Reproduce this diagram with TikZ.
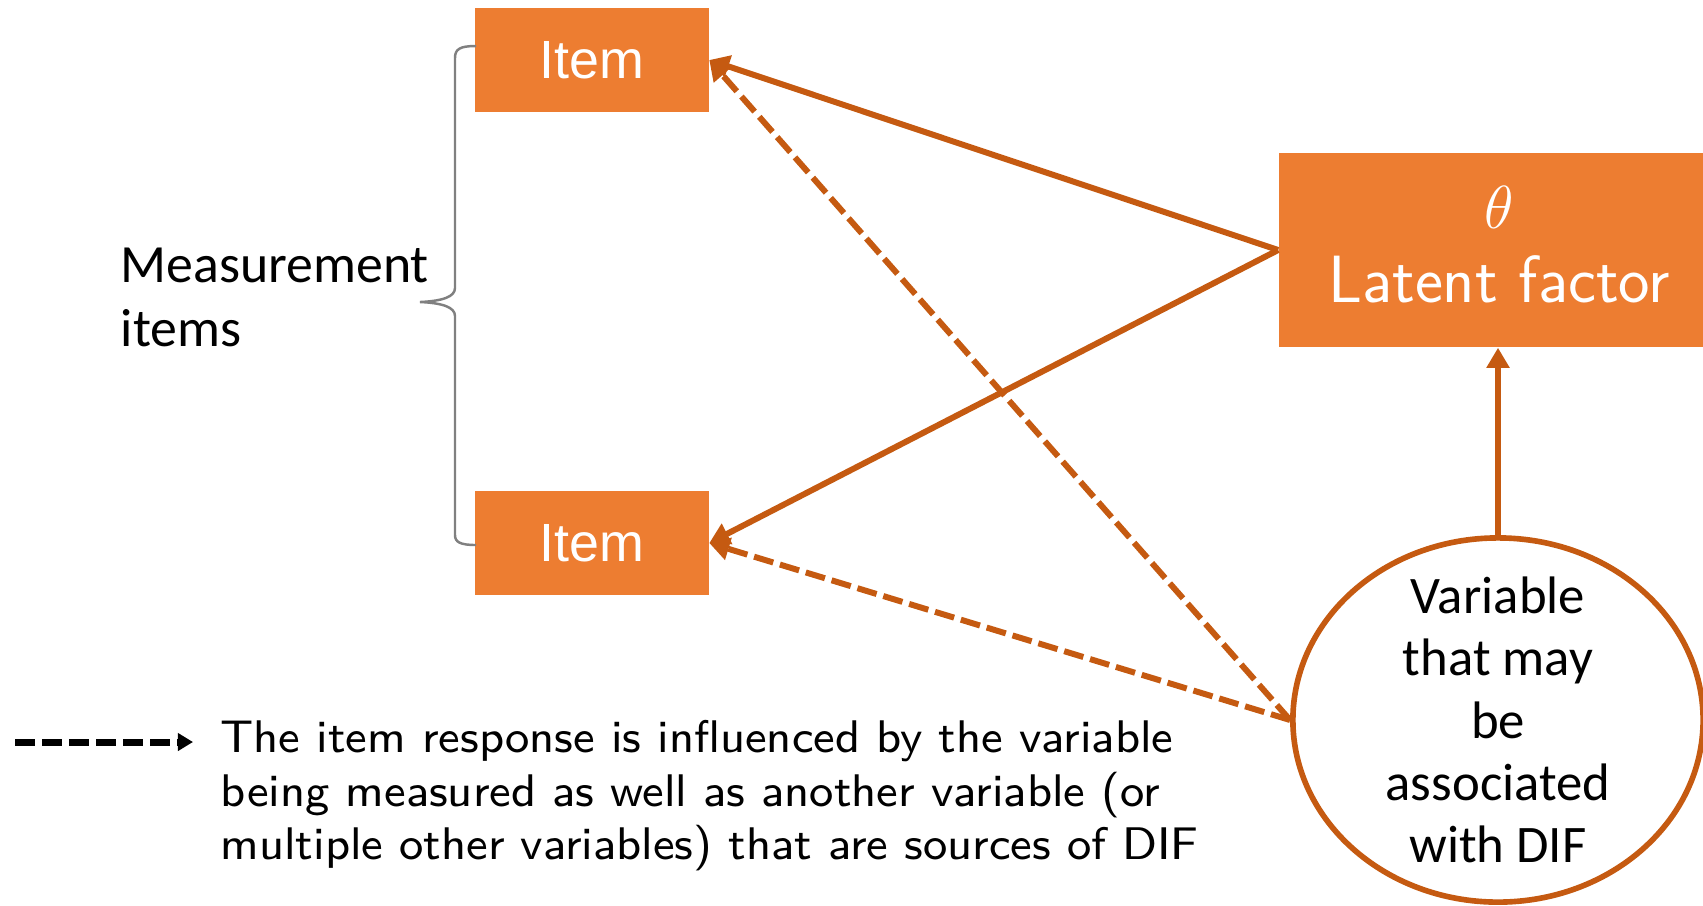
\documentclass[tikz,border=0pt]{standalone}
\usepackage{amsmath}
\usepackage{fontspec}
\newfontfamily\calibrifont{Carlito}
\newfontfamily\arialfont{Liberation Sans}
\newfontfamily\legendfont{lmsans8-regular.otf}
\usepackage{tikz}
\usetikzlibrary{arrows.meta, shapes.geometric, decorations.pathreplacing}

\definecolor{boxorange}{HTML}{ED7D31}
\definecolor{linkorange}{HTML}{C55A11}

\begin{document}
\begin{tikzpicture}[x=0.01cm, y=-0.01cm,
    itembox/.style={fill=boxorange, text=white, minimum width=2.33cm, minimum height=1.04cm,
        font=\arialfont\fontsize{15.3}{18}\selectfont},
    loading/.style={draw=linkorange, line width=1.7pt, -{Triangle[length=0.2cm, width=0.22cm]}},
    difload/.style={loading, dash pattern=on 0.2cm off 0.07cm}]
    \useasboundingbox (0,0) rectangle (1703,905);

    % Items and factor
    \node[itembox] (item1) at (592,60) {Item};
    \node[itembox] (item2) at (592,543) {Item};
    \node[fill=boxorange, minimum width=4.24cm, minimum height=1.94cm] (latent) at (1491,250) {};
    \node[text=white, align=center, font=\sffamily\fontsize{19}{21}\selectfont] (latenttext)
        at ([xshift=0.08cm, yshift=0.055cm]latent.center) {$\theta$\\Latent factor};

    % Source of DIF
    \node[ellipse, draw=linkorange, line width=1.6pt, fill=white, minimum width=4.1cm,
        minimum height=3.64cm] (dif) at (1498,720) {};
    \node[align=center, font=\calibrifont\fontsize{15}{17.7}\selectfont] (diftext) at (dif.center)
        {Variable\\that may\\be\\associated\\with DIF};

    % Paths
    \draw[loading] (latent.west) -- (item1.east);
    \draw[loading] (latent.west) -- (item2.east);
    \draw[difload] (dif.west) -- (item1.east);
    \draw[difload] (dif.west) -- (item2.east);
    \draw[loading] (dif.north) -- (dif.north |- latent.south);

    % Brace
    \draw[gray, line width=0.7pt] (476,46) .. controls (460,46) and (455,49) .. (455,58) -- (455,288)
        .. controls (455,297) and (442,301) .. (420,302) .. controls (442,303) and (455,307) .. (455,316)
        -- (455,535) .. controls (455,542) and (460,545) .. (476,545);
    \node[anchor=north west, inner sep=0pt, align=left,
        font=\calibrifont\fontsize{15.3}{18.3}\selectfont] (measure) at (120,247) {Measurement\\items};

    % Legend
    \coordinate (legstart) at (15,742);
    \coordinate (legend) at (193,742);
    \draw[line width=2pt, dash pattern=on 0.2cm off 0.07cm, -{Triangle[length=0.15cm, width=0.17cm]}]
        (legstart) -- (legend);
    \node[anchor=north west, inner sep=0pt, align=left, font=\legendfont\fontsize{13}{15.2}\selectfont]
        (legtext) at (220,720) {The item response is influenced by the variable\\
        being measured as well as another variable (or\\multiple other variables) that are sources of DIF};
\end{tikzpicture}
\end{document}
